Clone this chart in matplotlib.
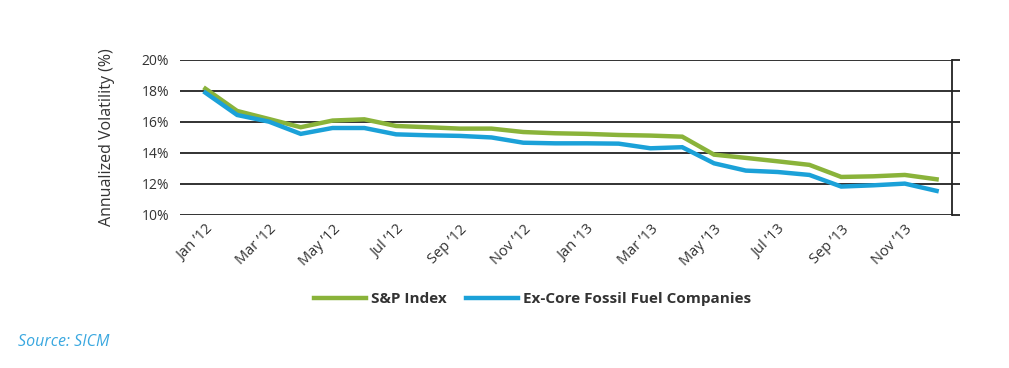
import numpy as np
import matplotlib.pyplot as plt

# Datos (volatilidad anualizada, %)
meses = ["Jan \u201912", "Feb \u201912", "Mar \u201912", "Apr \u201912", "May \u201912", "Jun \u201912",
         "Jul \u201912", "Aug \u201912", "Sep \u201912", "Oct \u201912", "Nov \u201912", "Dec \u201912",
         "Jan \u201913", "Feb \u201913", "Mar \u201913", "Apr \u201913", "May \u201913", "Jun \u201913",
         "Jul \u201913", "Aug \u201913", "Sep \u201913", "Oct \u201913", "Nov \u201913", "Dec \u201913"]
sp_index = [18.15, 16.71, 16.19, 15.66, 16.09, 16.17, 15.74, 15.66, 15.57, 15.57, 15.35, 15.27,
            15.23, 15.16, 15.12, 15.05, 13.89, 13.68, 13.46, 13.23, 12.45, 12.49, 12.58, 12.30]
ex_core = [17.89, 16.45, 16.02, 15.23, 15.61, 15.61, 15.20, 15.14, 15.10, 15.00, 14.66, 14.62,
           14.62, 14.60, 14.30, 14.37, 13.33, 12.86, 12.77, 12.58, 11.83, 11.91, 12.02, 11.55]
y_ticks = [10, 12, 14, 16, 18, 20]

plt.rcParams['font.family'] = ['Open Sans', 'DejaVu Sans']

fig = plt.figure(figsize=(10.09, 3.68), dpi=100)
ax = fig.add_axes([0.178, 0.416, 0.766, 0.421])

x = np.arange(len(meses))
ax.plot(x, sp_index, color='#8ab33a', lw=3.2, label='S&P Index', solid_joinstyle='miter')
ax.plot(x, ex_core, color='#1ba1d8', lw=3.2, label='Ex-Core Fossil Fuel Companies', solid_joinstyle='miter')

ax.set_ylim(10, 20)
ax.set_xlim(-0.81, 23.5)
ax.set_yticks(y_ticks)
ax.set_yticklabels([f"{v}%" for v in y_ticks], color='#333333', fontsize=10)
ax.yaxis.grid(True, color='#222222', lw=1.3)
ax.set_axisbelow(True)

for s in ['top', 'left', 'bottom']:
    ax.spines[s].set_visible(False)
ax.spines['right'].set_color('#222222')
ax.spines['right'].set_linewidth(1.3)
ax.tick_params(axis='y', which='both', left=False, right=True, labelright=False,
               labelleft=True, length=6, width=1.3, color='#222222', pad=1.5)

ax.set_xticks(x[::2])
ax.set_xticklabels(meses[::2], rotation=45, ha='right', rotation_mode='anchor',
                   color='#333333', fontsize=10.5)
ax.tick_params(axis='x', length=0, pad=5)

ax.set_ylabel("Annualized Volatility (%)", color='#333333', fontsize=11.5, labelpad=19)

fig.legend(loc='center', bbox_to_anchor=(0.528, 0.187), ncol=2, frameon=False,
           prop={'weight': 'bold', 'size': 11}, handlelength=3.4, columnspacing=1.3,
           handletextpad=0.3, labelcolor='#333333')

fig.text(0.018, 0.06, "Source: SICM", color='#3aa8e0', fontsize=11.5, style='italic')

fig.savefig('out.png', dpi=100)
